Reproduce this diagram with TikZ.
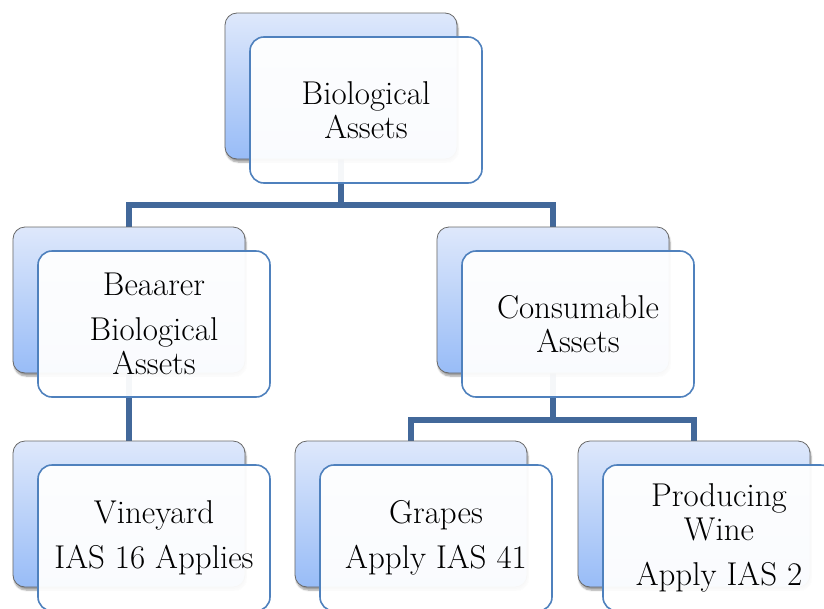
\documentclass[tikz,border=0pt]{standalone}
\usetikzlibrary{backgrounds,shadows.blur}

\definecolor{boxtop}{RGB}{222,232,251}
\definecolor{boxbottom}{RGB}{152,188,247}
\definecolor{boxline}{RGB}{105,105,105}
\definecolor{cardline}{RGB}{79,129,189}
\definecolor{wireblue}{RGB}{66,104,154}

\tikzset{
  backbox/.style={rounded corners=12pt, draw=boxline, line width=0.8pt,
    top color=boxtop, bottom color=boxbottom,
    minimum width=232pt, minimum height=146pt, inner sep=0pt,
    blur shadow={shadow xshift=1pt, shadow yshift=-3pt, shadow blur steps=6, shadow opacity=40}},
  frontbox/.style={rounded corners=14pt, draw=cardline, line width=1.6pt,
    fill=white, fill opacity=0.95, text opacity=1,
    minimum width=232pt, minimum height=146pt, inner sep=0pt, align=center,
    font=\fontsize{33}{34}\selectfont},
  wire/.style={draw=wireblue, line width=5.5pt}
}

\begin{document}
\begin{tikzpicture}[x=1pt,y=-1pt]

\useasboundingbox (0,0) rectangle (824,608);
\clip (0,0) rectangle (824,608);

% top level
\node[backbox] (bioBack) at (341,86) {};
\node[frontbox] (bio) at (366,110) {Biological\\Assets};

% second level
\node[backbox] (bearerBack) at (129,300) {};
\node[frontbox] (bearer) at (154,324) {Beaarer\\[11pt]Biological\\Assets};

\node[backbox] (consBack) at (553,300) {};
\node[frontbox] (cons) at (578,324) {Consumable\\Assets};

% third level
\node[backbox] (vineBack) at (129,514) {};
\node[frontbox] (vine) at (154,538) {Vineyard\\[11pt]IAS 16 Applies};

\node[backbox] (grapesBack) at (411,514) {};
\node[frontbox] (grapes) at (436,538) {Grapes\\[11pt]Apply IAS 41};

\node[backbox] (wineBack) at (694,514) {};
\node[frontbox] (wine) at (719,538) {Producing\\Wine\\[11pt]Apply IAS 2};

% connectors behind the boxes
\begin{pgfonlayer}{background}
\coordinate (split1) at (341,205);
\coordinate (split2) at (553,420);
\draw[wire] (bioBack) -- (split1) -| (bearerBack);
\draw[wire] (split1) -| (consBack);
\draw[wire] (bearerBack) -- (vineBack);
\draw[wire] (consBack) -- (split2) -| (grapesBack);
\draw[wire] (split2) -| (wineBack);
\end{pgfonlayer}

\end{tikzpicture}
\end{document}
